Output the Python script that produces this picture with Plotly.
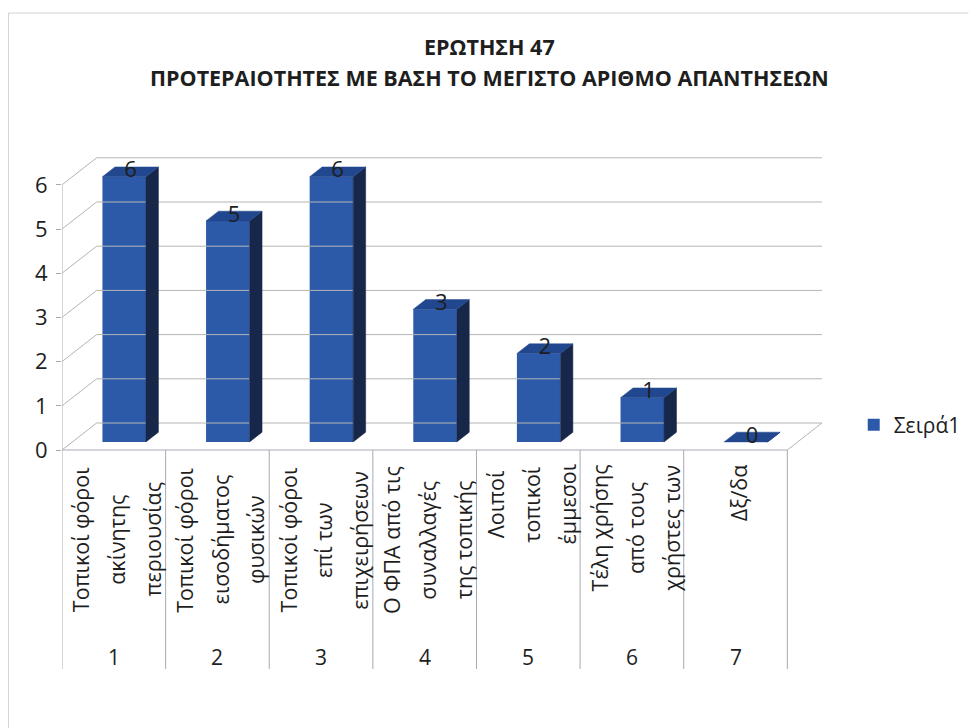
import plotly.graph_objects as go

# ---- data -------------------------------------------------------------
categories = ["1", "2", "3", "4", "5", "6", "7"]
category_lines = [
    ["Τοπικοί φόροι", "ακίνητης", "περιουσίας"],
    ["Τοπικοί φόροι", "εισοδήματος", "φυσικών"],
    ["Τοπικοί φόροι", "επί των", "επιχειρήσεων"],
    ["Ο ΦΠΑ από τις", "συναλλαγές", "της τοπικής"],
    ["Λοιποί", "τοπικοί", "έμμεσοι"],
    ["Τέλη χρήσης", "από τους", "χρήστες των"],
    ["Δξ/δα"],
]
values = [6, 5, 6, 3, 2, 1, 0]
series_name = "Σειρά1"
y_ticks = [0, 1, 2, 3, 4, 5, 6]
title_lines = ["ΕΡΩΤΗΣΗ 47", "ΠΡΟΤΕΡΑΙΟΤΗΤΕΣ ΜΕ ΒΑΣΗ ΤΟ ΜΕΓΙΣΤΟ ΑΡΙΘΜΟ ΑΠΑΝΤΗΣΕΩΝ"]

# ---- page geometry (pixels) -------------------------------------------
W, H = 978, 728
PLOT_L, PLOT_R, PLOT_T, PLOT_B = 62, 835, 150, 672
SLOT_PX = 104.7          # width of one category slot on the front edge
UNIT_PX = 44.2           # height of one value unit
ZERO_PX = 450            # front floor edge

x_lo = -0.5
x_hi = x_lo + (PLOT_R - PLOT_L) / SLOT_PX
y_lo = (ZERO_PX - PLOT_B) / UNIT_PX
y_hi = (ZERO_PX - PLOT_T) / UNIT_PX

# 3-D look: depth of the box and of the columns, in axis units
DX = 35 / SLOT_PX
DY = 27 / UNIT_PX
F0 = 0.30                # where the column fronts sit inside the depth
FD = 0.36                # column depth
BAR_W = 0.42

FRONT = "#2c5aa9"
TOP = "#21478e"
SIDE = "#17274a"
GRID = "#b4b4b4"
TXT = "#1e1e1e"
FONT = "Open Sans"


def ypx(px):
    return (ZERO_PX - px) / UNIT_PX


def paper_x(px):
    return (px - PLOT_L) / (PLOT_R - PLOT_L)


def paper_y(px):
    return (PLOT_B - px) / (PLOT_B - PLOT_T)


fig = go.Figure()

n = len(categories)
idx = list(range(n))

# ---- walls, floor and grid --------------------------------------------
gx, gy = [], []
for v in y_ticks:
    # back wall
    gx += [x_lo + DX, n - 0.5 + DX, None]
    gy += [v + DY, v + DY, None]
    # side wall
    gx += [x_lo, x_lo + DX, None]
    gy += [v, v + DY, None]
# floor right edge
gx += [n - 0.5, n - 0.5 + DX, None]
gy += [0, DY, None]
fig.add_trace(go.Scatter(x=gx, y=gy, mode="lines", line=dict(color=GRID, width=1),
                         hoverinfo="skip", showlegend=False))

# axis line, floor front edge and category table
ax, ay = [x_lo, x_lo, None, x_lo, n - 0.5, None], [max(y_ticks), 0, None, 0, 0, None]
table_bottom = ypx(669)
for k in range(n + 1):
    ax += [k - 0.5, k - 0.5, None]
    ay += [0, table_bottom, None]
fig.add_trace(go.Scatter(x=ax, y=ay, mode="lines", line=dict(color="#a9a9b4", width=1),
                         hoverinfo="skip", showlegend=False))

# ---- columns -----------------------------------------------------------
base = DY * F0
xs = [i + DX * F0 for i in idx]
fig.add_trace(go.Bar(x=xs, y=values, base=base, width=BAR_W, name=series_name,
                     marker=dict(color=FRONT, line=dict(width=0)), showlegend=True))

ddx, ddy = DX * FD, DY * FD
for x, v in zip(xs, values):
    xl, xr = x - BAR_W / 2, x + BAR_W / 2
    top = base + v
    fig.add_trace(go.Scatter(
        x=[xr, xr, xr + ddx, xr + ddx, xr], y=[base, top, top + ddy, base + ddy, base],
        mode="lines", fill="toself", fillcolor=SIDE, line=dict(width=0.5, color=SIDE),
        hoverinfo="skip", showlegend=False))
    fig.add_trace(go.Scatter(
        x=[xl, xr, xr + ddx, xl + ddx, xl], y=[top, top, top + ddy, top + ddy, top],
        mode="lines", fill="toself", fillcolor=TOP, line=dict(width=0.5, color=TOP),
        hoverinfo="skip", showlegend=False))

# value labels on the column tops
fig.add_trace(go.Scatter(
    x=[x + ddx / 2 for x in xs], y=[base + v + ddy / 2 for v in values],
    text=[str(v) for v in values], mode="text", textposition="middle center",
    textfont=dict(family=FONT, size=22, color=TXT), hoverinfo="skip", showlegend=False))

# ---- annotations -------------------------------------------------------
ann = []
LABEL_FONT = 21.5
LINE_PITCH = 36 / SLOT_PX
label_top_px = 463
for i, lines in enumerate(category_lines):
    longest = max(len(s) for s in lines) * 0.55 * LABEL_FONT
    center_y = ypx(label_top_px + longest / 2)
    m = len(lines)
    for j, s in enumerate(lines):
        ann.append(dict(x=i + 0.03 + (j - (m - 1) / 2) * LINE_PITCH, y=center_y,
                        xref="x", yref="y", text=s, textangle=-90, showarrow=False,
                        xanchor="center", yanchor="middle",
                        font=dict(family=FONT, size=LABEL_FONT, color=TXT)))
    ann.append(dict(x=i, y=ypx(657), xref="x", yref="y", text=categories[i],
                    showarrow=False, xanchor="center", yanchor="middle",
                    font=dict(family=FONT, size=21, color=TXT)))

for text, py in zip(title_lines, [47, 78]):
    ann.append(dict(x=paper_x(494), y=paper_y(py), xref="paper", yref="paper", text=f"<b>{text}</b>",
                    showarrow=False, xanchor="center", yanchor="middle",
                    font=dict(family=FONT, size=21.5, color=TXT)))

# frame round the chart
shapes = [
    dict(type="line", xref="paper", yref="paper", x0=paper_x(8), x1=paper_x(W), y0=paper_y(13), y1=paper_y(13),
         line=dict(color="#d2d2d8", width=1)),
    dict(type="line", xref="paper", yref="paper", x0=paper_x(8), x1=paper_x(8), y0=paper_y(13), y1=paper_y(H),
         line=dict(color="#d2d2d8", width=1)),
]

fig.update_layout(
    width=W, height=H,
    margin=dict(l=PLOT_L, r=W - PLOT_R, t=PLOT_T, b=H - PLOT_B),
    paper_bgcolor="white", plot_bgcolor="white",
    showlegend=True,
    legend=dict(x=paper_x(862), y=paper_y(425), xanchor="left", yanchor="middle",
                font=dict(family=FONT, size=21, color=TXT), bgcolor="rgba(0,0,0,0)"),
    xaxis=dict(range=[x_lo, x_hi], visible=False, fixedrange=True),
    yaxis=dict(range=[y_lo, y_hi], tickvals=y_ticks, ticktext=[str(v) for v in y_ticks],
               showgrid=False, zeroline=False, showline=False, ticks="outside", ticklen=5,
               tickcolor="#a9a9b4", ticklabelstandoff=4,
               tickfont=dict(family=FONT, size=22, color=TXT), fixedrange=True),
    annotations=ann, shapes=shapes,
    font=dict(family=FONT),
)

fig.write_html("out.html")
